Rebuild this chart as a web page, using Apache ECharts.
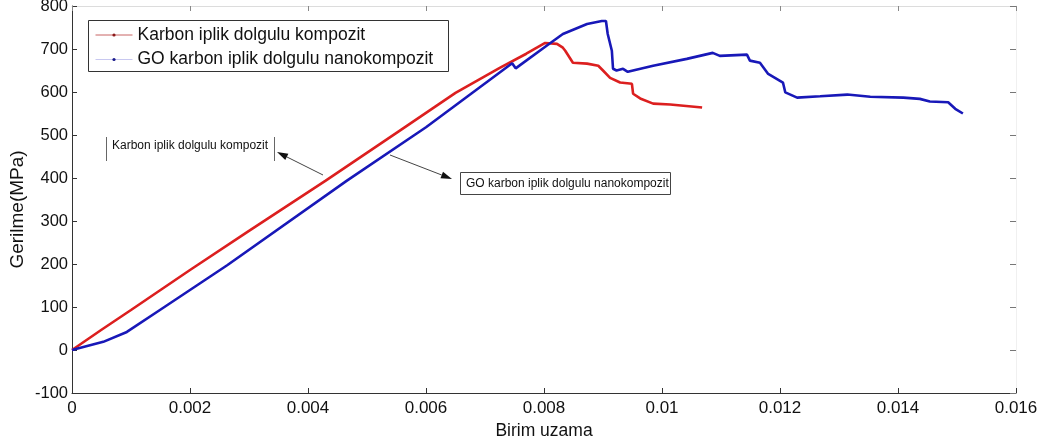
<!DOCTYPE html>
<html>
<head>
<meta charset="utf-8">
<script src="https://cdn.jsdelivr.net/npm/echarts@6/dist/echarts.min.js"></script>
<style>
  html, body { margin: 0; padding: 0; background: #fff; }
  #chart { width: 1061px; height: 444px; }
</style>
</head>
<body>
<div id="chart"></div>
<script>
// Karbon iplik dolgulu kompozit (kırmızı)
var redStrain = [0, 0.0005, 0.001, 0.002, 0.003, 0.0043, 0.0055, 0.0065, 0.00725, 0.0077, 0.00802,
  0.00822, 0.00832, 0.00836, 0.00849, 0.00873, 0.00892, 0.00900, 0.00912, 0.00929, 0.00949,
  0.00951, 0.00963, 0.00985, 0.01014, 0.01068];
var redStress = [0, 47, 93, 186, 277, 394, 505, 598, 656, 689, 714,
  712, 703, 696, 668, 666, 661, 650, 633, 622, 619,
  596, 585, 573, 571, 564];

// GO karbon iplik dolgulu nanokompozit (mavi)
var blueStrain = [0, 0.00053, 0.00093, 0.00149, 0.00263, 0.00466, 0.006, 0.00746, 0.00752, 0.0076,
  0.00805, 0.00832, 0.00873, 0.00898, 0.00905, 0.00908, 0.00915, 0.00917, 0.00923, 0.00934,
  0.00942, 0.00985, 0.01042, 0.01086, 0.01098, 0.01144, 0.01149, 0.01166, 0.0118, 0.01205,
  0.01209, 0.01229, 0.01268, 0.01314, 0.01353, 0.01409, 0.01437, 0.01454, 0.01485, 0.01497, 0.0151];
var blueStress = [0, 19, 42, 93, 197, 394, 518, 667, 655, 663,
  708, 735, 758, 765, 765, 735, 696, 654, 650, 654,
  647, 661, 677, 691, 684, 687, 673, 668, 642, 622,
  599, 587, 590, 594, 589, 587, 584, 578, 576, 561, 550];

var xTickLabels = ['0', '0.002', '0.004', '0.006', '0.008', '0.01', '0.012', '0.014', '0.016'];
var yTickLabels = ['-100', '0', '100', '200', '300', '400', '500', '600', '700', '800'];

var redName = 'Karbon iplik dolgulu kompozit';
var blueName = 'GO karbon iplik dolgulu nanokompozit';

function pairs(xs, ys) {
  return xs.map(function (x, i) { return [x, ys[i]]; });
}

// ok çizgisi + ok başı
function arrow(x1, y1, x2, y2) {
  var dx = x2 - x1, dy = y2 - y1;
  var len = Math.sqrt(dx * dx + dy * dy);
  var ux = dx / len, uy = dy / len;
  var bx = x2 - ux * 11, by = y2 - uy * 11;
  var px = -uy * 3.5, py = ux * 3.5;
  return [
    { type: 'line', shape: { x1: x1, y1: y1, x2: bx, y2: by }, style: { stroke: '#444', lineWidth: 1 } },
    { type: 'polygon', shape: { points: [[x2, y2], [bx + px, by + py], [bx - px, by - py]] }, style: { fill: '#111' } }
  ];
}

var font = 'Liberation Sans, Arial, sans-serif';
var myChart = echarts.init(document.getElementById('chart'));

var graphics = [
  // lejant kutusu
  { type: 'rect', shape: { x: 88.5, y: 20.5, width: 360, height: 51 }, style: { fill: 'none', stroke: '#333', lineWidth: 1 }, z: 5 },
  // ilk açıklama
  { type: 'line', shape: { x1: 106.5, y1: 137, x2: 106.5, y2: 161 }, style: { stroke: '#666', lineWidth: 1 } },
  { type: 'line', shape: { x1: 274.5, y1: 137, x2: 274.5, y2: 161 }, style: { stroke: '#666', lineWidth: 1 } },
  { type: 'text', x: 112, y: 146, style: { text: redName, font: '12px ' + font, fill: '#111', verticalAlign: 'middle' } },
  // ikinci açıklama
  { type: 'rect', shape: { x: 460.5, y: 172.5, width: 210, height: 22 }, style: { fill: '#fff', stroke: '#444', lineWidth: 1 } },
  { type: 'text', x: 466, y: 183.5, style: { text: blueName, font: '12px ' + font, fill: '#111', verticalAlign: 'middle' } }
].concat(arrow(323, 175, 277, 152)).concat(arrow(390, 155, 452, 179));

myChart.setOption({
  animation: false,
  backgroundColor: '#fff',
  grid: { left: 72, right: 45, top: 6, bottom: 51, containLabel: false, outerBoundsMode: 'none' },
  legend: {
    left: 95, top: 26, orient: 'vertical', padding: 0,
    itemWidth: 37, itemHeight: 4, itemGap: 6.5,
    textStyle: { fontFamily: font, fontSize: 17.5, color: '#111' },
    data: [
      { name: redName, lineStyle: { color: '#c86464', width: 1 }, itemStyle: { color: '#8b1a1a' } },
      { name: blueName, lineStyle: { color: '#c8c8f0', width: 1 }, itemStyle: { color: '#1a1a8b' } }
    ]
  },
  xAxis: [{
    type: 'value', min: 0, max: 0.016, interval: 0.002,
    name: 'Birim uzama', nameLocation: 'middle', nameGap: 27,
    nameTextStyle: { fontFamily: font, fontSize: 17.5, color: '#111' },
    axisLine: { onZero: false, lineStyle: { color: '#333', width: 1 } },
    axisTick: { inside: true, length: 5, lineStyle: { color: '#333' } },
    axisLabel: {
      margin: 7, fontFamily: font, fontSize: 17, color: '#111',
      formatter: function (v) { return xTickLabels[Math.round(v / 0.002)]; }
    },
    splitLine: { show: false }
  }, {
    type: 'value', position: 'top', min: 0, max: 0.016, interval: 0.002,
    axisLine: { onZero: false, lineStyle: { color: '#dcdcdc' } },
    axisTick: { inside: true, length: 5, lineStyle: { color: '#888' } },
    axisLabel: { show: false }, splitLine: { show: false }
  }],
  yAxis: [{
    type: 'value', min: -100, max: 800, interval: 100,
    name: 'Gerilme(MPa)', nameLocation: 'middle', nameGap: 45, nameRotate: 90,
    nameMoveOverlap: false,
    nameTextStyle: { fontFamily: font, fontSize: 19, color: '#111', padding: [0, 0, 0, -20] },
    axisLine: { onZero: false, lineStyle: { color: '#333', width: 1 } },
    axisTick: { inside: true, length: 5, lineStyle: { color: '#333' } },
    axisLabel: {
      margin: 4, fontFamily: font, fontSize: 16.5, color: '#111',
      formatter: function (v) { return yTickLabels[Math.round((v + 100) / 100)]; }
    },
    splitLine: { show: false }
  }, {
    type: 'value', position: 'right', min: -100, max: 800, interval: 100,
    axisLine: { onZero: false, lineStyle: { color: '#f0f0f0' } },
    axisTick: { inside: true, length: 6, lineStyle: { color: '#777' } },
    axisLabel: { show: false }, splitLine: { show: false }
  }],
  series: [{
    name: redName, type: 'line', data: pairs(redStrain, redStress),
    symbol: 'circle', symbolSize: 3, showSymbol: false,
    lineStyle: { color: '#dc1f1f', width: 2.6 }, itemStyle: { color: '#dc1f1f' }
  }, {
    name: blueName, type: 'line', data: pairs(blueStrain, blueStress),
    symbol: 'circle', symbolSize: 3, showSymbol: false,
    lineStyle: { color: '#1818b8', width: 2.6 }, itemStyle: { color: '#1818b8' }
  }],
  graphic: graphics
});

window.onresize = function () {
  myChart.resize();
};
</script>
</body>
</html>
